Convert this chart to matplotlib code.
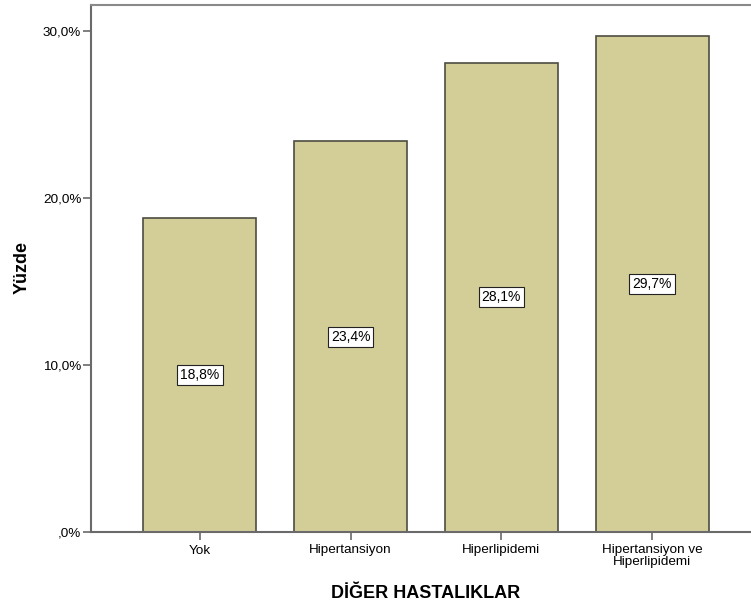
import matplotlib

matplotlib.use("Agg")
import matplotlib.pyplot as plt
from matplotlib.ticker import FuncFormatter

plt.rcParams["font.family"] = ["Liberation Sans", "DejaVu Sans"]

categories = ["Yok", "Hipertansiyon", "Hiperlipidemi", "Hipertansiyon ve\nHiperlipidemi"]
percents = [18.8, 23.4, 28.1, 29.7]
y_ticks = [0, 10, 20, 30]

BAR_COLOR = "#d3ce98"
EDGE_COLOR = "#4d4d42"
SPINE_COLOR = "#6a6a6a"


def pct_label(v, _pos=None):
    s = f"{v:.1f}".replace(".", ",")
    if s.startswith("0,"):
        s = s[1:]
    return s + "%"


fig = plt.figure(figsize=(7.51, 6.07), dpi=100)
ax = fig.add_axes([91 / 751, 75 / 607, 669 / 751, 527 / 607])

x = list(range(len(categories)))
ax.bar(x, percents, width=0.75, color=BAR_COLOR, edgecolor=EDGE_COLOR, linewidth=1.2, zorder=2)

for xi, v in zip(x, percents):
    ax.text(xi, v / 2, pct_label(v), ha="center", va="center", fontsize=10, zorder=3,
            bbox=dict(boxstyle="square,pad=0.22", facecolor="white", edgecolor="#222222", linewidth=0.8))

ax.set_xlim(-0.723, 3.716)
ax.set_ylim(0, 31.56)
ax.set_yticks(y_ticks)
ax.yaxis.set_major_formatter(FuncFormatter(pct_label))
ax.set_xticks(x)
ax.set_xticklabels(categories, fontsize=9.7, linespacing=0.95)

for side in ["left", "right", "top", "bottom"]:
    ax.spines[side].set_color(SPINE_COLOR)
    ax.spines[side].set_linewidth(1.5)
ax.spines["top"].set_color("#8a8a8a")

ax.tick_params(axis="y", direction="out", length=6, width=1.2, color=SPINE_COLOR, labelsize=9.7, pad=1)
ax.tick_params(axis="x", direction="out", length=6, width=1.2, color=SPINE_COLOR, labelsize=9.7, pad=3)

fig.text(426 / 751, 1 - 593 / 607, "DİĞER HASTALIKLAR", ha="center", va="center",
         fontsize=13, fontweight="bold")
fig.text(22 / 751, 1 - 268 / 607, "Yüzde", ha="center", va="center", rotation=90,
         fontsize=13, fontweight="bold")

fig.savefig("out.png", dpi=100)
